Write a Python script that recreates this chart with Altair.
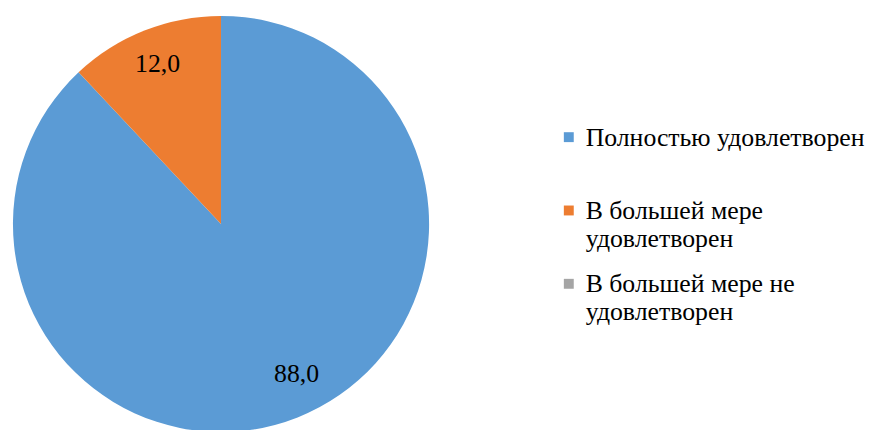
import altair as alt
import pandas as pd

categories = ["Полностью удовлетворен", "В большей мере удовлетворен", "В большей мере не удовлетворен"]
values = [88.0, 12.0, 0.0]
labels = ["88,0", "12,0", ""]
colors = ["#5B9BD5", "#ED7D31", "#A5A5A5"]

FONT = "Liberation Serif"
FS = 26

df = pd.DataFrame({"cat": categories, "value": values, "label": labels, "order": [0, 1, 2]})

label_expr = (
    "datum.label == 'В большей мере удовлетворен' ? ['В большей мере', 'удовлетворен'] : "
    "datum.label == 'В большей мере не удовлетворен' ? ['В большей мере не', 'удовлетворен'] : datum.label"
)

theta_scale = alt.Scale(domain=[0, 100])

stacked = alt.Chart(df).transform_stack(
    stack="value", groupby=[], as_=["v0", "v1"], sort=[alt.SortField("order", "ascending")]
).transform_calculate(mid="(datum.v0 + datum.v1) / 2")

pie = stacked.mark_arc(outerRadius=210).encode(
    theta=alt.Theta("v0:Q", scale=theta_scale),
    theta2="v1:Q",
    color=alt.Color(
        "cat:N",
        scale=alt.Scale(domain=categories, range=colors),
        legend=alt.Legend(
            title=None,
            orient="none",
            legendX=553,
            legendY=124,
            symbolType="M-1,-2.72H1V-0.72H-1Z",
            symbolSize=100,
            symbolStrokeWidth=0,
            labelFont=FONT,
            labelFontSize=FS,
            labelColor="#000000",
            labelExpr=label_expr,
            labelLimit=400,
            labelOffset=4,
            labelBaseline="alphabetic",
            gridAlign="all",
            rowPadding=20,
        ),
    ),
    x=alt.value(215),
    y=alt.value(216),
)

text_blue = stacked.transform_filter(alt.datum.order == 0).mark_text(
    radius=172, font=FONT, fontSize=FS, color="#000000", dx=13, dy=-8
).encode(
    theta=alt.Theta("mid:Q", scale=theta_scale),
    text="label:N",
    x=alt.value(215),
    y=alt.value(216),
)

text_orange = stacked.transform_filter(alt.datum.order == 1).mark_text(
    radius=174, font=FONT, fontSize=FS, color="#000000"
).encode(
    theta=alt.Theta("mid:Q", scale=theta_scale),
    text="label:N",
    x=alt.value(215),
    y=alt.value(216),
)

chart = (
    alt.layer(pie, text_blue, text_orange)
    .properties(width=870, height=422, autosize="none", padding=0)
    .configure_view(stroke=None)
)

chart.save("out.html", embed_options={"renderer": "svg", "actions": False})
